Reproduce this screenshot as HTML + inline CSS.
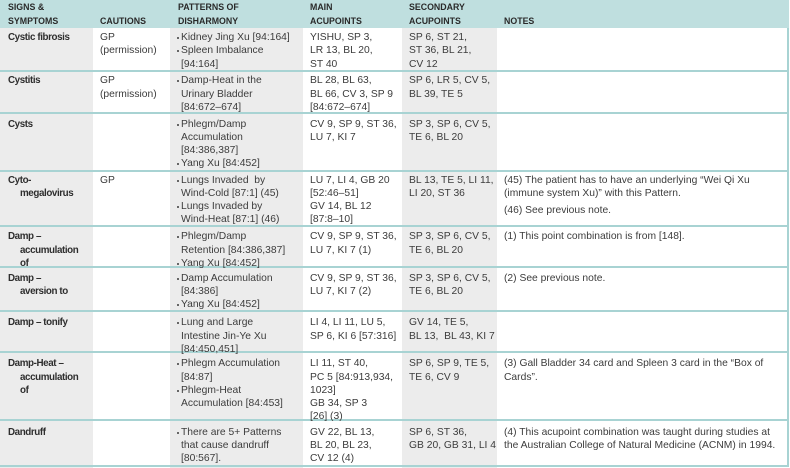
<!DOCTYPE html>
<html>
<head>
<meta charset="utf-8">
<style>
  html,body{margin:0;padding:0;background:#fff;}
  #wrap{position:relative;width:790px;height:468px;overflow:hidden;background:#fff;
    font-family:"Liberation Sans",Arial,sans-serif;color:#3c3c3c;}
  .bg{position:absolute;}
  .hdr{position:absolute;left:0;top:0;width:789px;height:28px;background:#bfdfdf;}
  .gray{background:#ececec;}
  .line{position:absolute;left:0;width:789px;height:2px;background:#a8d3d3;}
  .vline{position:absolute;top:28px;left:787px;width:2px;height:439px;background:#a8d3d3;}
  .h{position:absolute;top:0;font-weight:bold;font-size:8.8px;line-height:14.4px;color:#2a2a2a;white-space:nowrap;}
  .t{position:absolute;font-size:10.3px;line-height:13.3px;white-space:nowrap;margin-top:1px;}
  .c1{font-weight:bold;font-size:9.8px;letter-spacing:-0.4px;color:#2e2e2e;padding-left:12px;text-indent:-12px;left:8px;}
  .c3 div{position:relative;}
  .c3 div::before{content:"";position:absolute;left:-4.5px;top:6px;width:2px;height:2px;background:#666;}
  .n p{margin:0 0 4px 0;}
</style>
</head>
<body>
<div id="wrap">
  <div class="bg gray" style="left:0;top:28px;width:93px;height:440px;"></div>
  <div class="bg gray" style="left:170px;top:28px;width:133px;height:440px;"></div>
  <div class="bg gray" style="left:402px;top:28px;width:95px;height:440px;"></div>
  <div class="hdr"></div>

  <div class="line" style="top:70px"></div>
  <div class="line" style="top:112px"></div>
  <div class="line" style="top:170px"></div>
  <div class="line" style="top:225px"></div>
  <div class="line" style="top:266px"></div>
  <div class="line" style="top:310px"></div>
  <div class="line" style="top:351px"></div>
  <div class="line" style="top:419px"></div>
  <div class="line" style="top:465px"></div>
  <div class="vline"></div>
  <div style="position:absolute;left:789px;top:0;width:1px;height:468px;background:#fff;"></div>

  <div class="h" style="left:8px;">SIGNS &amp;<br>SYMPTOMS</div>
  <div class="h" style="left:100px;top:14.4px;">CAUTIONS</div>
  <div class="h" style="left:178px;">PATTERNS OF<br>DISHARMONY</div>
  <div class="h" style="left:310px;">MAIN<br>ACUPOINTS</div>
  <div class="h" style="left:409px;">SECONDARY<br>ACUPOINTS</div>
  <div class="h" style="left:504px;top:14.4px;">NOTES</div>

  <div class="t c1" style="top:30px;">Cystic fibrosis</div>
  <div class="t" style="left:100px;top:30px;">GP<br>(permission)</div>
  <div class="t c3" style="left:181px;top:30px;"><div>Kidney Jing Xu [94:164]</div><div>Spleen Imbalance<br>[94:164]</div></div>
  <div class="t" style="left:310px;top:30px;">YISHU, SP 3,<br>LR 13, BL 20,<br>ST 40</div>
  <div class="t" style="left:409px;top:30px;">SP 6, ST 21,<br>ST 36, BL 21,<br>CV 12</div>

  <div class="t c1" style="top:73.3px;">Cystitis</div>
  <div class="t" style="left:100px;top:73.3px;">GP<br>(permission)</div>
  <div class="t c3" style="left:181px;top:73.3px;"><div>Damp-Heat in the<br>Urinary Bladder<br>[84:672–674]</div></div>
  <div class="t" style="left:310px;top:73.3px;">BL 28, BL 63,<br>BL 66, CV 3, SP 9<br>[84:672–674]</div>
  <div class="t" style="left:409px;top:73.3px;">SP 6, LR 5, CV 5,<br>BL 39, TE 5</div>

  <div class="t c1" style="top:116.6px;">Cysts</div>
  <div class="t c3" style="left:181px;top:116.6px;"><div>Phlegm/Damp<br>Accumulation<br>[84:386,387]</div><div>Yang Xu [84:452]</div></div>
  <div class="t" style="left:310px;top:116.6px;">CV 9, SP 9, ST 36,<br>LU 7, KI 7</div>
  <div class="t" style="left:409px;top:116.6px;">SP 3, SP 6, CV 5,<br>TE 6, BL 20</div>

  <div class="t c1" style="top:172.6px;">Cyto-<br>megalovirus</div>
  <div class="t" style="left:100px;top:172.6px;">GP</div>
  <div class="t c3" style="left:181px;top:172.6px;"><div>Lungs Invaded&nbsp; by<br>Wind-Cold [87:1] (45)</div><div>Lungs Invaded by<br>Wind-Heat [87:1] (46)</div></div>
  <div class="t" style="left:310px;top:172.6px;">LU 7, LI 4, GB 20<br>[52:46–51]<br>GV 14, BL 12<br>[87:8–10]</div>
  <div class="t" style="left:409px;top:172.6px;">BL 13, TE 5, LI 11,<br>LI 20, ST 36</div>
  <div class="t n" style="left:504px;top:172.6px;"><p>(45) The patient has to have an underlying “Wei Qi Xu<br>(immune system Xu)” with this Pattern.</p><p>(46) See previous note.</p></div>

  <div class="t c1" style="top:229.3px;">Damp –<br>accumulation<br>of</div>
  <div class="t c3" style="left:181px;top:229.3px;"><div>Phlegm/Damp<br>Retention [84:386,387]</div><div>Yang Xu [84:452]</div></div>
  <div class="t" style="left:310px;top:229.3px;">CV 9, SP 9, ST 36,<br>LU 7, KI 7 (1)</div>
  <div class="t" style="left:409px;top:229.3px;">SP 3, SP 6, CV 5,<br>TE 6, BL 20</div>
  <div class="t" style="left:504px;top:229.3px;">(1) This point combination is from [148].</div>

  <div class="t c1" style="top:270.6px;">Damp –<br>aversion to</div>
  <div class="t c3" style="left:181px;top:270.6px;"><div>Damp Accumulation<br>[84:386]</div><div>Yang Xu [84:452]</div></div>
  <div class="t" style="left:310px;top:270.6px;">CV 9, SP 9, ST 36,<br>LU 7, KI 7 (2)</div>
  <div class="t" style="left:409px;top:270.6px;">SP 3, SP 6, CV 5,<br>TE 6, BL 20</div>
  <div class="t" style="left:504px;top:270.6px;">(2) See previous note.</div>

  <div class="t c1" style="top:315.3px;">Damp – tonify</div>
  <div class="t c3" style="left:181px;top:315.3px;"><div>Lung and Large<br>Intestine Jin-Ye Xu<br>[84:450,451]</div></div>
  <div class="t" style="left:310px;top:315.3px;">LI 4, LI 11, LU 5,<br>SP 6, KI 6 [57:316]</div>
  <div class="t" style="left:409px;top:315.3px;">GV 14, TE 5,<br>BL 13,&nbsp; BL 43, KI 7</div>

  <div class="t c1" style="top:356.3px;">Damp-Heat –<br>accumulation<br>of</div>
  <div class="t c3" style="left:181px;top:356.3px;"><div>Phlegm Accumulation<br>[84:87]</div><div>Phlegm-Heat<br>Accumulation [84:453]</div></div>
  <div class="t" style="left:310px;top:356.3px;">LI 11, ST 40,<br>PC 5 [84:913,934,<br>1023]<br>GB 34, SP 3<br>[26] (3)</div>
  <div class="t" style="left:409px;top:356.3px;">SP 6, SP 9, TE 5,<br>TE 6, CV 9</div>
  <div class="t" style="left:504px;top:356.3px;">(3) Gall Bladder 34 card and Spleen 3 card in the “Box of<br>Cards”.</div>

  <div class="t c1" style="top:424.6px;">Dandruff</div>
  <div class="t c3" style="left:181px;top:424.6px;"><div>There are 5+ Patterns<br>that cause dandruff<br>[80:567].</div></div>
  <div class="t" style="left:310px;top:424.6px;">GV 22, BL 13,<br>BL 20, BL 23,<br>CV 12 (4)</div>
  <div class="t" style="left:409px;top:424.6px;">SP 6, ST 36,<br>GB 20, GB 31, LI 4</div>
  <div class="t" style="left:504px;top:424.6px;">(4) This acupoint combination was taught during studies at<br>the Australian College of Natural Medicine (ACNM) in 1994.</div>
</div>
</body>
</html>
